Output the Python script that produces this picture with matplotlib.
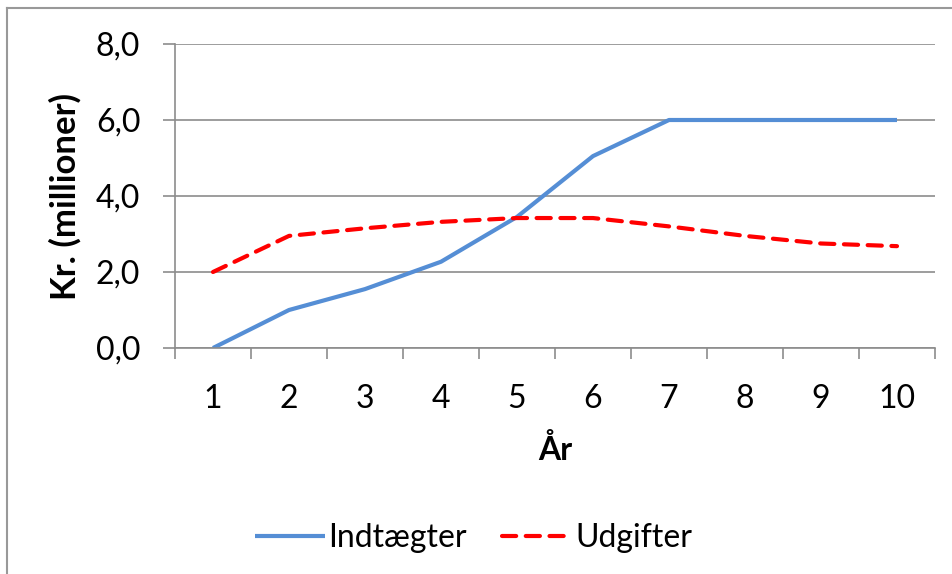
import matplotlib
matplotlib.use('Agg')
import matplotlib.pyplot as plt
from matplotlib.lines import Line2D
from matplotlib.ticker import FuncFormatter

plt.rcParams['font.family'] = ['Lato', 'DejaVu Sans']

years = [1, 2, 3, 4, 5, 6, 7, 8, 9, 10]
indtaegter = [0.0, 1.0, 1.55, 2.27, 3.45, 5.05, 6.0, 6.0, 6.0, 6.0]
udgifter = [2.0, 2.95, 3.15, 3.32, 3.42, 3.42, 3.2, 2.95, 2.75, 2.68]

grid_col = '#8c8c8c'
fs = 23

fig = plt.figure(figsize=(9.52, 5.74), dpi=100)
fig.patch.set_facecolor('white')
ax = fig.add_axes([175 / 952, 1 - 348 / 574, 760 / 952, 304 / 574])

ax.plot(years, indtaegter, color='#558ED5', lw=3, solid_capstyle='butt', label='Indtægter')
ax.plot(years, udgifter, color='#FF0000', lw=3, ls=(0, (3.4, 2.3)), dash_capstyle='round',
        label='Udgifter')

ax.set_xlim(0.5, 10.5)
ax.set_ylim(0, 8)
ax.set_yticks([0, 2, 4, 6, 8])
ax.yaxis.set_major_formatter(FuncFormatter(lambda v, p: f'{v:.1f}'.replace('.', ',')))
ax.grid(axis='y', color=grid_col, lw=1.2)
ax.set_axisbelow(True)

# category boundaries as ticks, labels at centres
ax.set_xticks([x + 0.5 for x in range(0, 11)])
ax.set_xticklabels([])
ax.set_xticks(years, minor=True)
ax.set_xticklabels([str(y) for y in years], minor=True)
ax.tick_params(axis='x', which='major', length=8, width=1.2, color=grid_col, direction='out')
ax.tick_params(axis='x', which='minor', length=0, pad=26, labelsize=fs)
ax.tick_params(axis='y', length=9, width=1.2, color=grid_col, pad=16, labelsize=fs)

for s in ['top', 'right']:
    ax.spines[s].set_visible(False)
for s in ['left', 'bottom']:
    ax.spines[s].set_color(grid_col)
    ax.spines[s].set_linewidth(1.2)

ax.set_xlabel('År', fontsize=fs, fontweight='bold', labelpad=14)
ax.set_ylabel('Kr. (millioner)', fontsize=25, fontweight='bold', labelpad=10)

fig.legend(loc='center', bbox_to_anchor=(474 / 952, 1 - 538 / 574), ncol=2, frameon=False,
           fontsize=fs, handlelength=2.2, handletextpad=0.1, columnspacing=1.1)

# outer chart border (cut off at right and bottom)
fig.add_artist(Line2D([7 / 952, 7 / 952], [0, 1 - 8 / 574], color='#999999', lw=1.5,
                      transform=fig.transFigure))
fig.add_artist(Line2D([7 / 952, 1], [1 - 8 / 574, 1 - 8 / 574], color='#999999', lw=1.5,
                      transform=fig.transFigure))

fig.savefig('out.png', dpi=100, facecolor='white')
